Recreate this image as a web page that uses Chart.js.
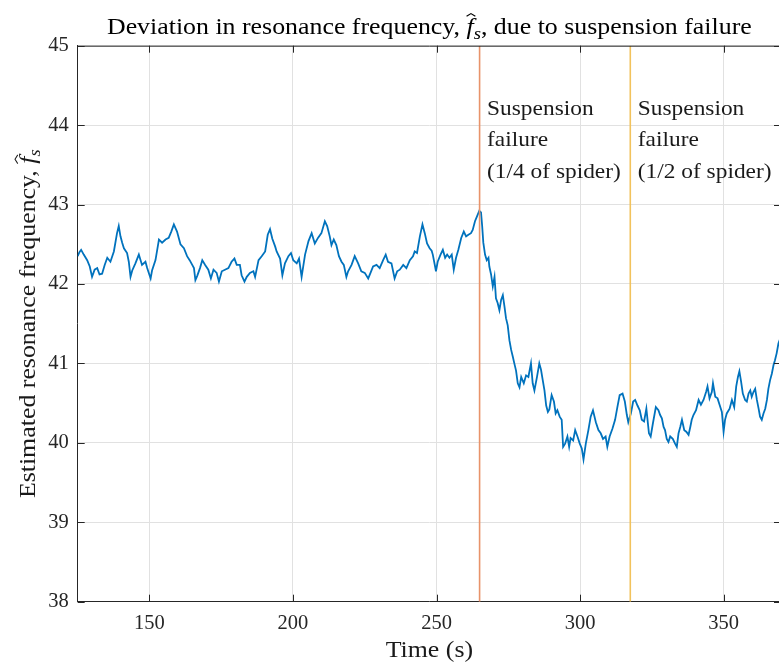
<!DOCTYPE html>
<html>
<head>
<meta charset="utf-8">
<title>Deviation in resonance frequency</title>
<script src="https://cdn.jsdelivr.net/npm/chart.js@4/dist/chart.umd.min.js"></script>
<style>
  html, body { margin: 0; padding: 0; background: #ffffff; overflow: hidden; }
  #wrap { position: relative; width: 781px; height: 664px; }
</style>
</head>
<body>
<div id="wrap"><canvas id="c" width="781" height="664"></canvas></div>
<script>
// Time stamps (s) of the frequency estimate
const times = [
  125.0, 125.6, 126.2, 127.1, 128.3, 129.2, 130.0, 130.9, 131.8, 132.6,
  133.5, 134.4, 135.3, 136.4, 137.6, 138.7, 139.3, 139.9, 140.5, 141.1,
  142.2, 142.8, 143.4, 144.0, 145.1, 146.3, 147.4, 148.6, 149.2, 150.4,
  150.9, 152.1, 153.3, 154.4, 155.6, 156.7, 157.6, 158.5, 159.6, 160.8,
  162.0, 163.1, 164.0, 164.9, 165.5, 166.0, 166.6, 167.6, 168.4, 169.4,
  170.5, 171.4, 172.3, 173.4, 174.2, 175.2, 176.3, 177.5, 178.6, 179.6,
  180.4, 181.5, 182.1, 183.1, 183.9, 185.0, 186.2, 186.8, 188.0, 189.1,
  190.3, 191.2, 192.0, 192.8, 193.8, 194.3, 195.5, 196.3, 197.2, 198.4,
  199.3, 200.1, 201.3, 202.1, 203.0, 204.2, 205.4, 206.5, 207.6, 208.7,
  209.9, 211.1, 211.9, 212.8, 213.4, 214.2, 215.1, 216.0, 216.9, 217.7,
  218.6, 219.2, 220.4, 221.5, 222.7, 223.8, 225.0, 226.2, 227.0, 227.9,
  229.1, 230.2, 231.4, 232.3, 233.1, 234.3, 235.4, 236.3, 237.2, 238.4,
  239.5, 240.7, 241.8, 242.4, 243.2, 244.2, 245.1, 245.9, 246.7, 247.6,
  248.3, 248.7, 249.5, 249.8, 250.4, 251.4, 252.2, 253.0, 253.7, 254.5,
  255.3, 256.0, 256.8, 257.6, 258.6, 259.5, 260.3, 261.1, 262.0, 262.6,
  263.4, 264.1, 264.9, 265.5, 265.9, 266.3, 266.9, 267.5, 268.1, 268.4,
  269.0, 269.6, 270.2, 270.7, 271.3, 271.9, 272.5, 273.1, 273.7, 274.2,
  274.8, 275.4, 276.0, 276.6, 277.1, 277.7, 278.3, 278.9, 279.5, 280.4,
  281.2, 282.0, 282.9, 283.5, 284.1, 285.0, 285.8, 286.4, 287.0, 287.6,
  288.2, 288.8, 289.3, 290.1, 290.9, 291.5, 292.1, 292.9, 293.6, 294.1,
  294.8, 295.6, 296.2, 296.7, 297.6, 298.3, 299.1, 299.9, 300.6, 301.2,
  302.0, 302.9, 303.7, 304.5, 305.5, 306.4, 307.2, 308.0, 308.9, 309.5,
  310.3, 311.3, 312.2, 313.0, 313.8, 314.8, 315.6, 316.3, 316.8, 317.7,
  318.5, 319.2, 320.0, 320.8, 321.5, 322.3, 323.1, 324.0, 324.6, 325.4,
  326.4, 327.3, 327.9, 328.5, 329.1, 329.6, 330.2, 330.8, 331.4, 332.3,
  333.1, 333.7, 334.3, 334.9, 335.5, 336.3, 337.0, 337.8, 338.4, 338.9,
  339.5, 340.4, 341.3, 342.1, 343.0, 343.9, 344.4, 345.1, 345.9, 346.3,
  347.1, 347.9, 348.6, 349.4, 350.0, 350.5, 351.1, 352.1, 352.9, 353.7,
  354.4, 355.0, 355.5, 356.1, 356.7, 357.5, 358.1, 358.7, 359.3, 359.8,
  360.4, 361.0, 361.6, 362.2, 362.7, 363.3, 363.9, 364.5, 365.1, 365.6,
  366.2, 366.8, 367.4, 367.9, 368.5, 369.1, 369.6, 370.0
];

// Estimated resonance frequency f_s at each time stamp
const freq = [
  42.35, 42.40, 42.43, 42.37, 42.30, 42.22, 42.09, 42.18, 42.20, 42.12,
  42.13, 42.24, 42.33, 42.28, 42.41, 42.64, 42.73, 42.60, 42.52, 42.45,
  42.39, 42.28, 42.09, 42.17, 42.26, 42.37, 42.24, 42.28, 42.20, 42.07,
  42.17, 42.30, 42.56, 42.52, 42.56, 42.58, 42.66, 42.75, 42.66, 42.50,
  42.45, 42.35, 42.30, 42.24, 42.20, 42.05, 42.10, 42.20, 42.30, 42.24,
  42.18, 42.07, 42.18, 42.14, 42.03, 42.16, 42.18, 42.20, 42.28, 42.32,
  42.24, 42.24, 42.11, 42.03, 42.09, 42.14, 42.16, 42.09, 42.30, 42.35,
  42.41, 42.62, 42.69, 42.57, 42.47, 42.41, 42.32, 42.11, 42.26, 42.35,
  42.39, 42.30, 42.26, 42.32, 42.09, 42.37, 42.54, 42.64, 42.51, 42.58,
  42.64, 42.79, 42.73, 42.60, 42.49, 42.56, 42.49, 42.35, 42.28, 42.24,
  42.09, 42.16, 42.24, 42.35, 42.26, 42.16, 42.14, 42.07, 42.14, 42.22,
  42.24, 42.20, 42.30, 42.37, 42.28, 42.26, 42.07, 42.16, 42.18, 42.24,
  42.20, 42.30, 42.35, 42.41, 42.39, 42.60, 42.75, 42.64, 42.51, 42.45,
  42.42, 42.37, 42.22, 42.16, 42.28, 42.37, 42.43, 42.33, 42.37, 42.33,
  42.37, 42.18, 42.33, 42.43, 42.58, 42.66, 42.60, 42.62, 42.64, 42.68,
  42.79, 42.85, 42.92, 42.90, 42.73, 42.52, 42.37, 42.30, 42.33, 42.22,
  42.12, 41.97, 42.09, 41.82, 41.76, 41.67, 41.80, 41.86, 41.71, 41.57,
  41.48, 41.29, 41.17, 41.08, 41.00, 40.91, 40.75, 40.70, 40.83, 40.75,
  40.85, 40.83, 41.00, 40.75, 40.66, 40.83, 41.00, 40.92, 40.79, 40.66,
  40.47, 40.39, 40.42, 40.60, 40.52, 40.37, 40.41, 40.33, 40.29, 39.95,
  39.99, 40.08, 39.95, 40.06, 40.03, 40.16, 40.08, 39.99, 39.93, 39.79,
  39.99, 40.16, 40.33, 40.41, 40.26, 40.16, 40.12, 40.05, 40.08, 39.95,
  40.08, 40.18, 40.29, 40.45, 40.60, 40.62, 40.52, 40.35, 40.26, 40.37,
  40.52, 40.54, 40.47, 40.41, 40.29, 40.27, 40.43, 40.12, 40.08, 40.25,
  40.45, 40.41, 40.35, 40.31, 40.20, 40.16, 40.05, 40.01, 40.08, 40.05,
  39.99, 39.95, 40.12, 40.20, 40.29, 40.16, 40.14, 40.10, 40.20, 40.29,
  40.35, 40.41, 40.54, 40.48, 40.54, 40.64, 40.71, 40.56, 40.64, 40.75,
  40.58, 40.56, 40.48, 40.39, 40.14, 40.29, 40.37, 40.43, 40.54, 40.45,
  40.71, 40.83, 40.90, 40.77, 40.62, 40.54, 40.52, 40.62, 40.66, 40.58,
  40.64, 40.68, 40.54, 40.43, 40.33, 40.29, 40.37, 40.43, 40.54, 40.68,
  40.79, 40.87, 40.98, 41.04, 41.13, 41.25, 41.30, 41.34
];

// Moments of the two suspension failures (s)
const eventTimes = [265, 317.5];
const eventNotes = [
  ["Suspension", "failure", "(1/4 of spider)"],
  ["Suspension", "failure", "(1/2 of spider)"]
];
const eventColors = ["#E8936A", "#F2C25C"];

// Axis ranges and tick values
const xRange = [125, 370];
const yRange = [38, 45];
const xTicks = [150, 200, 250, 300, 350];
const yTicks = [38, 39, 40, 41, 42, 43, 44, 45];

const SERIF = '"Liberation Serif", "Times New Roman", serif';
const AXIS = "#262626";
const GRID = "#e1e1e1";
const LINE = "#0072BD";
const WIDE = 1.14; // horizontal widening of the serif text runs

// Text runs: plain, italic, subscript and hatted pieces
function runFont(p, size) {
  const s = p.sub ? size * 0.72 : size;
  return (p.it ? "italic " : "") + s + "px " + SERIF;
}
function drawRich(ctx, parts, x, y, size, align, hs) {
  let total = 0;
  const widths = parts.map(p => {
    ctx.font = runFont(p, size);
    const w = ctx.measureText(p.t).width;
    total += w;
    return w;
  });
  ctx.save();
  ctx.translate(x, y);
  ctx.scale(hs, 1);
  let cx = align === "center" ? -total / 2 : 0;
  ctx.textBaseline = "alphabetic";
  ctx.textAlign = "left";
  parts.forEach((p, i) => {
    ctx.font = runFont(p, size);
    const dy = p.sub ? size * 0.24 : 0;
    ctx.fillText(p.t, cx, dy);
    if (p.hat) {
      const hx = cx + widths[i] * 0.62;
      const hy = -size * 0.86;
      ctx.lineWidth = 1;
      ctx.beginPath();
      ctx.moveTo(hx - size * 0.17, hy + size * 0.1);
      ctx.lineTo(hx, hy - size * 0.02);
      ctx.lineTo(hx + size * 0.17, hy + size * 0.1);
      ctx.stroke();
    }
    cx += widths[i];
  });
  ctx.restore();
}

const fs = [{ t: "f", it: true, hat: true }, { t: "s", it: true, sub: true }];
const titleParts = [{ t: "Deviation in resonance frequency, " }, ...fs, { t: ", due to suspension failure" }];
const yLabelParts = [{ t: "Estimated resonance frequency, " }, ...fs];
const xLabelParts = [{ t: "Time (s)" }];

const decorations = {
  id: "decorations",
  afterDatasetsDraw(chart) {
    const { ctx, chartArea: a, scales: { x, y } } = chart;
    ctx.save();
    ctx.strokeStyle = AXIS;
    ctx.lineWidth = 1;
    const tl = 7;
    ctx.beginPath();
    // box
    ctx.moveTo(a.left, a.top + 0.5); ctx.lineTo(a.right, a.top + 0.5);
    ctx.moveTo(a.right - 0.5, a.top); ctx.lineTo(a.right - 0.5, a.bottom);
    // inward ticks
    xTicks.forEach(v => {
      const px = Math.round(x.getPixelForValue(v)) + 0.5;
      ctx.moveTo(px, a.bottom); ctx.lineTo(px, a.bottom - tl);
      ctx.moveTo(px, a.top); ctx.lineTo(px, a.top + tl);
    });
    yTicks.forEach(v => {
      const py = Math.round(y.getPixelForValue(v)) + 0.5;
      ctx.moveTo(a.left, py); ctx.lineTo(a.left + tl, py);
      ctx.moveTo(a.right, py); ctx.lineTo(a.right - tl, py);
    });
    ctx.stroke();

    // event notes
    ctx.fillStyle = "#1a1a1a";
    eventTimes.forEach((t, i) => {
      const px = x.getPixelForValue(t) + 7.5;
      eventNotes[i].forEach((line, j) => {
        drawRich(ctx, [{ t: line }], px, a.top + 69 + j * 31.5, 20.7, "left", 1.13);
      });
    });

    // titles
    ctx.fillStyle = "#000000";
    ctx.strokeStyle = "#000000";
    const cxm = (a.left + a.right) / 2;
    drawRich(ctx, titleParts, cxm, 33.5, 22.7, "center", WIDE);

    ctx.fillStyle = "#1a1a1a";
    ctx.strokeStyle = "#1a1a1a";
    drawRich(ctx, xLabelParts, cxm, 657, 22.7, "center", WIDE);

    ctx.save();
    ctx.translate(35, (a.top + a.bottom) / 2);
    ctx.rotate(-Math.PI / 2);
    drawRich(ctx, yLabelParts, 0, 0, 22.7, "center", WIDE);
    ctx.restore();

    ctx.restore();
  }
};

const datasets = eventTimes.map((t, i) => ({
  data: [{ x: t, y: yRange[0] }, { x: t, y: yRange[1] }],
  borderColor: eventColors[i],
  borderWidth: 1.6,
  pointRadius: 0,
  order: 0
}));
datasets.push({
  data: times.map((t, i) => ({ x: t, y: freq[i] })),
  borderColor: LINE,
  borderWidth: 1.8,
  pointRadius: 0,
  tension: 0,
  order: 1
});

new Chart(document.getElementById("c"), {
  type: "line",
  data: { datasets },
  options: {
    responsive: false,
    devicePixelRatio: 1,
    animation: false,
    layout: { padding: { top: 45.7, left: 0, right: 0, bottom: 0 } },
    plugins: { legend: { display: false }, tooltip: { enabled: false }, title: { display: false } },
    scales: {
      x: {
        type: "linear",
        min: xRange[0],
        max: xRange[1],
        afterBuildTicks: s => { s.ticks = xTicks.map(v => ({ value: v })); },
        afterFit: s => { s.height = 62.3; },
        grid: { color: GRID, drawTicks: false, lineWidth: 1 },
        border: { display: true, color: AXIS, width: 1 },
        ticks: { color: "#262626", font: { family: SERIF, size: 20.5 }, padding: 10, maxRotation: 0, autoSkip: false }
      },
      y: {
        type: "linear",
        min: yRange[0],
        max: yRange[1],
        afterBuildTicks: s => { s.ticks = yTicks.map(v => ({ value: v })); },
        afterFit: s => { s.width = 77.7; },
        grid: { color: GRID, drawTicks: false, lineWidth: 1 },
        border: { display: true, color: AXIS, width: 1 },
        ticks: { color: "#262626", font: { family: SERIF, size: 20.5 }, padding: 9, autoSkip: false }
      }
    }
  },
  plugins: [decorations]
});
</script>
</body>
</html>
